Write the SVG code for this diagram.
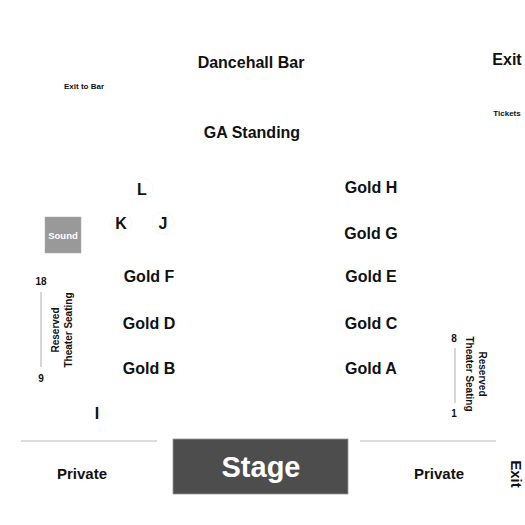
<svg xmlns="http://www.w3.org/2000/svg" width="525" height="525" viewBox="0 0 525 525">
<style>
text{font-family:"Liberation Sans",Arial,sans-serif;font-weight:bold;fill:#111;text-anchor:middle}
.l{font-size:16px}
.s{font-size:8px}
.n{font-size:10px}
.r{font-size:10px}
.sep{stroke:#bbb;stroke-width:1.2}
.ring{fill:#fff;stroke:#f8f8f8;stroke-width:1}
</style>
<rect width="525" height="525" fill="#fff"/>
<g id="dancehall-bar"><text class="l" x="251" y="68">Dancehall Bar</text></g>
<g id="exit-top"><text class="l" x="507" y="65">Exit</text></g>
<g id="exit-to-bar"><text class="s" x="84" y="89">Exit to Bar</text></g>
<g id="tickets"><text class="s" x="507" y="116">Tickets</text></g>
<g id="ga-standing"><text class="l" x="252" y="138">GA Standing</text></g>
<g id="L"><circle class="ring" cx="142" cy="189" r="11"/><text class="l" x="142" y="195">L</text></g>
<g id="K"><circle class="ring" cx="121" cy="223" r="11"/><text class="l" x="121" y="229">K</text></g>
<g id="J"><circle class="ring" cx="163" cy="223" r="11"/><text class="l" x="163" y="229">J</text></g>
<g id="I"><text class="l" x="97" y="419">I</text></g>
<g id="gold-h"><text class="l" x="371" y="193">Gold H</text></g>
<g id="gold-g"><text class="l" x="371" y="239">Gold G</text></g>
<g id="gold-f"><text class="l" x="149" y="282">Gold F</text></g>
<g id="gold-e"><text class="l" x="371" y="282">Gold E</text></g>
<g id="gold-d"><text class="l" x="149" y="329">Gold D</text></g>
<g id="gold-c"><text class="l" x="371" y="329">Gold C</text></g>
<g id="gold-b"><text class="l" x="149" y="374">Gold B</text></g>
<g id="gold-a"><text class="l" x="371" y="374">Gold A</text></g>
<g id="sound"><rect x="45" y="217" width="36" height="36" fill="#999" stroke="#aaa" stroke-width="0.5"/><text x="63" y="239" style="font-size:9.5px;fill:#fff">Sound</text></g>
<g id="reserved-left">
<text class="n" x="41" y="285">18</text>
<line class="sep" x1="41" y1="292" x2="41" y2="367"/>
<text class="n" x="41" y="382">9</text>
<text class="r" transform="translate(59,330) rotate(-90)">Reserved</text>
<text class="r" transform="translate(72,330) rotate(-90)">Theater Seating</text>
</g>
<g id="reserved-right">
<text class="n" x="454" y="342">8</text>
<line class="sep" x1="455" y1="348" x2="455" y2="403"/>
<text class="n" x="454" y="417">1</text>
<text class="r" transform="translate(479,374) rotate(90)">Reserved</text>
<text class="r" transform="translate(466,374) rotate(90)">Theater Seating</text>
</g>
<g id="connectors">
<line class="sep" x1="21" y1="441" x2="157" y2="441"/>
<line class="sep" x1="360" y1="441" x2="496" y2="441"/>
</g>
<g id="stage"><rect x="173" y="439" width="175" height="55" fill="#4d4d4d" stroke="#999" stroke-width="0.8"/><text x="261" y="477" style="font-size:29px;fill:#fff">Stage</text></g>
<g id="private-left"><text class="l" x="82" y="479" style="font-size:15px">Private</text></g>
<g id="private-right"><text class="l" x="439" y="479" style="font-size:15px">Private</text></g>
<g id="exit-bottom"><text class="l" transform="translate(511,474) rotate(90)" style="font-size:15px">Exit</text></g>
</svg>
